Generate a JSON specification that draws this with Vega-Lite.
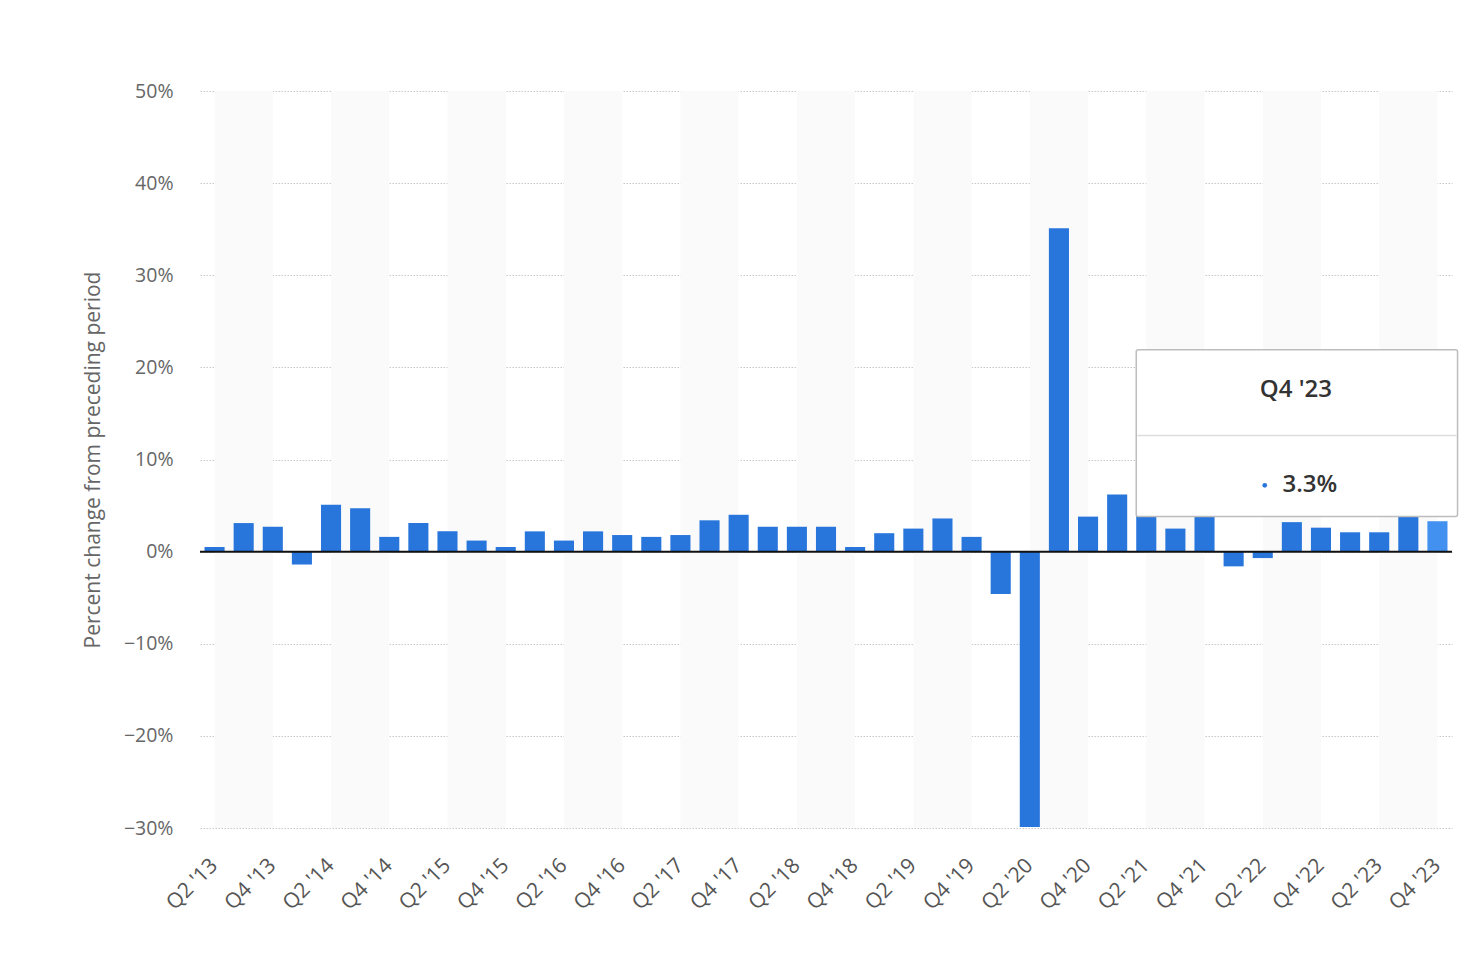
{
  "$schema": "https://vega.github.io/schema/vega-lite/v6.json",
  "autosize": {"type": "none"},
  "width": 1252,
  "height": 737,
  "padding": {"left": 200, "top": 91, "right": 29, "bottom": 136},
  "background": "white",
  "config": {
    "font": "Open Sans",
    "view": {"stroke": null},
    "axis": {"labelFont": "Open Sans", "titleFont": "Open Sans"}
  },
  "datasets": {
    "gdp": [
      {"q": "Q2 '13", "v": 0.5}, {"q": "Q3 '13", "v": 3.1}, {"q": "Q4 '13", "v": 2.7},
      {"q": "Q1 '14", "v": -1.4}, {"q": "Q2 '14", "v": 5.1}, {"q": "Q3 '14", "v": 4.7}, {"q": "Q4 '14", "v": 1.6},
      {"q": "Q1 '15", "v": 3.1}, {"q": "Q2 '15", "v": 2.2}, {"q": "Q3 '15", "v": 1.2}, {"q": "Q4 '15", "v": 0.5},
      {"q": "Q1 '16", "v": 2.2}, {"q": "Q2 '16", "v": 1.2}, {"q": "Q3 '16", "v": 2.2}, {"q": "Q4 '16", "v": 1.8},
      {"q": "Q1 '17", "v": 1.6}, {"q": "Q2 '17", "v": 1.8}, {"q": "Q3 '17", "v": 3.4}, {"q": "Q4 '17", "v": 4.0},
      {"q": "Q1 '18", "v": 2.7}, {"q": "Q2 '18", "v": 2.7}, {"q": "Q3 '18", "v": 2.7}, {"q": "Q4 '18", "v": 0.5},
      {"q": "Q1 '19", "v": 2.0}, {"q": "Q2 '19", "v": 2.5}, {"q": "Q3 '19", "v": 3.6}, {"q": "Q4 '19", "v": 1.6},
      {"q": "Q1 '20", "v": -4.6}, {"q": "Q2 '20", "v": -29.9}, {"q": "Q3 '20", "v": 35.1}, {"q": "Q4 '20", "v": 3.8},
      {"q": "Q1 '21", "v": 6.2}, {"q": "Q2 '21", "v": 7.0}, {"q": "Q3 '21", "v": 2.5}, {"q": "Q4 '21", "v": 7.0},
      {"q": "Q1 '22", "v": -1.6}, {"q": "Q2 '22", "v": -0.7}, {"q": "Q3 '22", "v": 3.2}, {"q": "Q4 '22", "v": 2.6},
      {"q": "Q1 '23", "v": 2.1}, {"q": "Q2 '23", "v": 2.1}, {"q": "Q3 '23", "v": 4.9}, {"q": "Q4 '23", "v": 3.3}
    ],
    "bands": [
      {"from": "Q2 '13", "to": "Q4 '13"}, {"from": "Q2 '14", "to": "Q4 '14"}, {"from": "Q2 '15", "to": "Q4 '15"},
      {"from": "Q2 '16", "to": "Q4 '16"}, {"from": "Q2 '17", "to": "Q4 '17"}, {"from": "Q2 '18", "to": "Q4 '18"},
      {"from": "Q2 '19", "to": "Q4 '19"}, {"from": "Q2 '20", "to": "Q4 '20"}, {"from": "Q2 '21", "to": "Q4 '21"},
      {"from": "Q2 '22", "to": "Q4 '22"}, {"from": "Q2 '23", "to": "Q4 '23"}
    ],
    "tip": [
      {"from": "Q2 '21", "to": "Q4 '23", "title": "Q4 '23", "label": "3.3%", "titleAt": "Q3 '22", "dotAt": "Q2 '22"}
    ]
  },
  "layer": [
    {
      "data": {"name": "bands"},
      "mark": {"type": "rect", "fill": "#fafafa"},
      "encoding": {
        "x": {"field": "from", "type": "nominal", "bandPosition": 0.5, "sort": null,
              "scale": {"domain": ["Q2 '13","Q3 '13","Q4 '13","Q1 '14","Q2 '14","Q3 '14","Q4 '14","Q1 '15","Q2 '15","Q3 '15","Q4 '15","Q1 '16","Q2 '16","Q3 '16","Q4 '16","Q1 '17","Q2 '17","Q3 '17","Q4 '17","Q1 '18","Q2 '18","Q3 '18","Q4 '18","Q1 '19","Q2 '19","Q3 '19","Q4 '19","Q1 '20","Q2 '20","Q3 '20","Q4 '20","Q1 '21","Q2 '21","Q3 '21","Q4 '21","Q1 '22","Q2 '22","Q3 '22","Q4 '22","Q1 '23","Q2 '23","Q3 '23","Q4 '23"], "paddingInner": 0.31, "paddingOuter": 0.155},
              "axis": {
                "title": null, "domain": false, "ticks": false, "grid": false,
                "values": ["Q2 '13","Q4 '13","Q2 '14","Q4 '14","Q2 '15","Q4 '15","Q2 '16","Q4 '16","Q2 '17","Q4 '17","Q2 '18","Q4 '18","Q2 '19","Q4 '19","Q2 '20","Q4 '20","Q2 '21","Q4 '21","Q2 '22","Q4 '22","Q2 '23","Q4 '23"],
                "labelAngle": -45, "labelAlign": "right", "labelBaseline": "middle",
                "labelPadding": 34, "labelFontSize": 21, "labelColor": "#555555", "labelOverlap": false
              }},
        "x2": {"field": "to", "bandPosition": 0.5}
      }
    },
    {
      "data": {"name": "gdp"},
      "mark": {"type": "bar"},
      "encoding": {
        "x": {"field": "q", "type": "nominal", "sort": null},
        "y": {"field": "v", "type": "quantitative",
              "scale": {"domain": [-30, 50], "nice": false, "zero": false},
              "axis": {
                "title": "Percent change from preceding period",
                "titleFontSize": 21, "titleFontWeight": "normal", "titleColor": "#666666", "titlePadding": 20,
                "values": [-30, -20, -10, 0, 10, 20, 30, 40, 50],
                "labelExpr": "format(datum.value, 'd') + '%'",
                "labelFontSize": 19.5, "labelColor": "#666666", "labelPadding": 27,
                "domain": false, "ticks": false,
                "grid": true, "gridColor": "#c8c8c8", "gridDash": [1.5, 1.5], "gridWidth": 1
              }},
        "color": {"condition": {"test": "datum.q === \"Q4 '23\"", "value": "#4291f0"}, "value": "#2876dc"}
      }
    },
    {
      "data": {"name": "tip"},
      "mark": {"type": "rule", "color": "#111111", "strokeWidth": 2},
      "encoding": {"y": {"datum": 0}}
    },
    {
      "data": {"name": "tip"},
      "mark": {"type": "rect", "fill": "white", "stroke": "#bdbdbd", "strokeWidth": 1.5, "cornerRadius": 2},
      "encoding": {
        "x": {"field": "from", "type": "nominal", "bandPosition": 0},
        "x2": {"field": "to", "bandPosition": 1.5},
        "y": {"datum": 21.9},
        "y2": {"datum": 3.8}
      }
    },
    {
      "data": {"name": "tip"},
      "mark": {"type": "rule", "color": "#dddddd", "strokeWidth": 1.5},
      "encoding": {
        "x": {"field": "from", "type": "nominal", "bandPosition": 0.05},
        "x2": {"field": "to", "bandPosition": 1.45},
        "y": {"datum": 12.6}
      }
    },
    {
      "data": {"name": "tip"},
      "mark": {"type": "text", "fontSize": 24, "color": "#333333", "align": "center", "baseline": "middle", "fontWeight": 600},
      "encoding": {
        "x": {"field": "titleAt", "type": "nominal", "bandPosition": 0.7},
        "y": {"datum": 17.5},
        "text": {"field": "title"}
      }
    },
    {
      "data": {"name": "tip"},
      "mark": {"type": "text", "fontSize": 24, "color": "#333333", "align": "center", "baseline": "middle", "fontWeight": 600},
      "encoding": {
        "x": {"field": "titleAt", "type": "nominal", "bandPosition": 1.4},
        "y": {"datum": 7.2},
        "text": {"field": "label"}
      }
    },
    {
      "data": {"name": "tip"},
      "mark": {"type": "point", "filled": true, "size": 22, "color": "#2876dc", "opacity": 1},
      "encoding": {
        "x": {"field": "dotAt", "type": "nominal", "bandPosition": 0.6},
        "y": {"datum": 7.2}
      }
    }
  ]
}
